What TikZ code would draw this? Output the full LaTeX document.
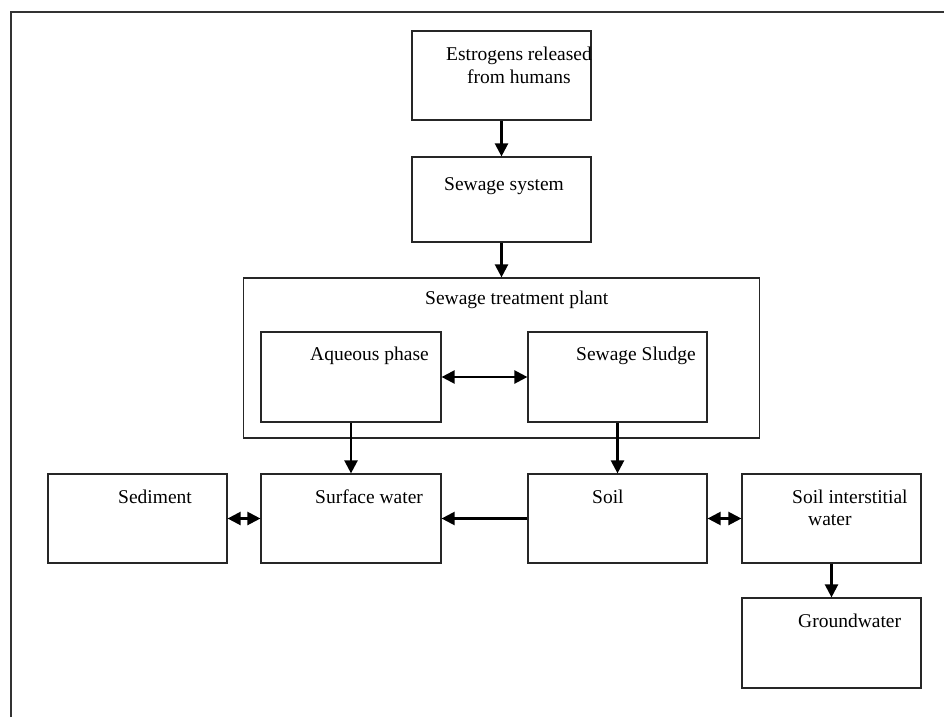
\documentclass[tikz,border=0pt]{standalone}
\usepackage{fontspec}
\setmainfont{Liberation Serif}
\usetikzlibrary{arrows.meta}
\begin{document}
\begin{tikzpicture}[x=1pt,y=-1pt,
  box/.style={draw=black!85,line width=1.2pt,inner sep=0pt,minimum width=179pt,minimum height=89pt},
  lbl/.style={anchor=base west,inner sep=0pt,font=\fontsize{19.5}{22}\selectfont},
  conn/.style={line width=2.3pt,-{Triangle[length=13pt,width=13pt]}},
  dconn/.style={line width=2.3pt,{Triangle[length=13pt,width=13pt]}-{Triangle[length=13pt,width=13pt]}}]
\useasboundingbox (0,0) rectangle (944,717);
\fill[white] (0,0) rectangle (944,717);
% outer frame (top and left only)
\draw[line width=1.5pt,black!80] (11,717) -- (11,12) -- (944,12);
% boxes
\node[box] (est) at (501.5,75.5) {};
\node[box,minimum height=85pt] (sew) at (501.5,199.5) {};
\node[box,minimum width=516pt,minimum height=160pt] (stp) at (501.5,358) {};
\node[box,minimum width=180pt,minimum height=90pt] (aq) at (351,377) {};
\node[box,minimum height=90pt] (sl) at (617.5,377) {};
\node[box] (sed) at (137.5,518.5) {};
\node[box,minimum width=180pt] (sw) at (351,518.5) {};
\node[box] (soil) at (617.5,518.5) {};
\node[box] (siw) at (831.5,518.5) {};
\node[box,minimum height=90pt] (gw) at (831.5,643) {};
% labels
\node[lbl] (t1) at (446,60) {Estrogens released};
\node[lbl] (t1b) at (467,83) {from humans};
\node[lbl] (t2) at (444,190) {Sewage system};
\node[lbl] (t3) at (425,304) {Sewage treatment plant};
\node[lbl] (t4) at (310,360) {Aqueous phase};
\node[lbl] (t5) at (576,360) {Sewage Sludge};
\node[lbl] (t6) at (118,503) {Sediment};
\node[lbl] (t7) at (315,503) {Surface water};
\node[lbl] (t8) at (592,503) {Soil};
\node[lbl] (t9) at (792,503) {Soil interstitial};
\node[lbl] (t9b) at (808,525) {water};
\node[lbl] (t10) at (798,627) {Groundwater};
% connectors
\draw[conn] (est.south) -- (sew.north);
\draw[conn] (sew.south) -- (stp.north);
\draw[dconn] (aq.east) -- (sl.west);
\draw[conn] (aq.south) -- (sw.north);
\draw[conn] (sl.south) -- (soil.north);
\draw[dconn] (sed.east) -- (sw.west);
\draw[conn] (soil.west) -- (sw.east);
\draw[dconn] (soil.east) -- (siw.west);
\draw[conn] (siw.south) -- (gw.north);
\end{tikzpicture}
\end{document}
